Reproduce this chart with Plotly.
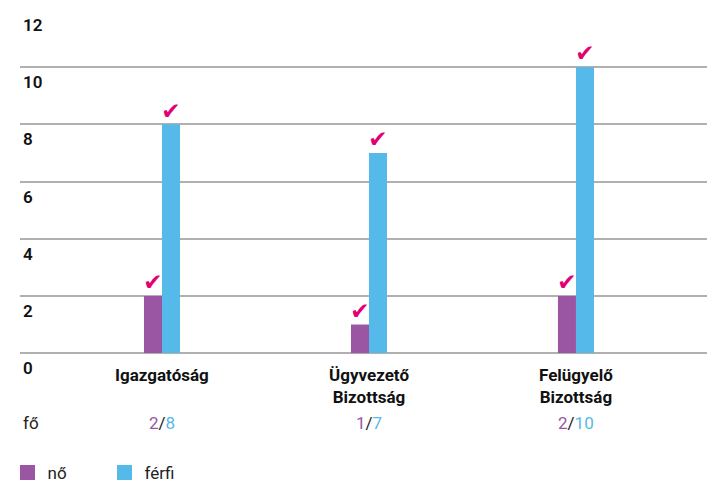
import plotly.graph_objects as go

categories = ["Igazgatóság", "Ügyvezető<br>Bizottság", "Felügyelő<br>Bizottság"]
no_values = [2, 1, 2]
ferfi_values = [8, 7, 10]
y_ticks = [0, 2, 4, 6, 8, 10, 12]

PURPLE = "#9a55a3"
BLUE = "#55b9e9"
MAGENTA = "#e20074"
FONT = "Roboto, Arial, sans-serif"

W, H = 707, 491
Y0_PX, Y12_PX = 356, 10          # pixel rows of the 0 and 12 gridlines
T, B = 9, 491                    # plot area top/bottom pixels
UNIT = (Y0_PX - Y12_PX) / 12
Y_RANGE = [-(B - Y0_PX) / UNIT, 12 + (Y12_PX - T) / UNIT]


def py(p):
    return (B - p) / (B - T)


xs = list(range(len(categories)))
bargap = 0.826
half = (1 - bargap) / 4  # centre offset of each bar inside its group

fig = go.Figure()
fig.add_trace(go.Bar(x=xs, y=no_values, name="nő", marker_color=PURPLE,
                     marker_line_width=0, offsetgroup="a", showlegend=False))
fig.add_trace(go.Bar(x=xs, y=ferfi_values, name="férfi", marker_color=BLUE,
                     marker_line_width=0, offsetgroup="b", showlegend=False))

for vals, sign in ((no_values, -1), (ferfi_values, 1)):
    fig.add_trace(go.Scatter(
        x=[x + sign * half for x in xs], y=vals, mode="text", text=["✔"] * len(vals),
        textposition="top center", textfont=dict(family="DejaVu Sans", size=23, color=MAGENTA),
        showlegend=False, hoverinfo="skip", cliponaxis=False))

for name, col in (("nő", PURPLE), ("férfi", BLUE)):
    fig.add_trace(go.Scatter(x=[None], y=[None], mode="markers", name=name,
                             marker=dict(symbol="square", size=15, color=col)))

for x, c, n, f in zip(xs, categories, no_values, ferfi_values):
    fig.add_annotation(
        x=x, xref="x", y=py(366), yref="paper", showarrow=False, yanchor="top",
        text=f"<b>{c}</b>", font=dict(family=FONT, size=17, color="#111"))
    fig.add_annotation(
        x=x, xref="x", y=py(426), yref="paper", showarrow=False, yanchor="middle",
        text=f"<span style='color:{PURPLE}'>{n}</span>/<span style='color:{BLUE}'>{f}</span>",
        font=dict(family=FONT, size=17, color="#222"))
fig.add_annotation(x=0, xref="paper", xshift=1, xanchor="left", y=py(426), yref="paper",
                   yanchor="middle", showarrow=False, text="fő",
                   font=dict(family=FONT, size=17, color="#222"))

fig.update_layout(
    width=W, height=H,
    margin=dict(l=20, r=0, t=T, b=H - B, pad=0),
    paper_bgcolor="white", plot_bgcolor="white",
    barmode="group", bargap=bargap, bargroupgap=0,
    showlegend=True,
    legend=dict(orientation="h", x=-12.5 / 687, xanchor="left", y=py(477), yanchor="middle",
                font=dict(family=FONT, size=17, color="#222"),
                entrywidth=52, entrywidthmode="pixels", itemclick=False, bgcolor="rgba(0,0,0,0)"),
    xaxis=dict(range=[-0.686, 2.633], tickvals=xs, automargin=False, showticklabels=False,
               showgrid=False, zeroline=False, showline=False, ticks=""),
    yaxis=dict(range=Y_RANGE, tickvals=y_ticks, showgrid=True, gridcolor="#b0b0b0",
               gridwidth=1.5, zeroline=False, showline=False, ticks="", automargin=False,
               ticklabelposition="inside", ticklabelshift=15,
               tickfont=dict(family=FONT, size=17, color="#111", weight=600)),
)

fig.write_html("out.html", config={"displayModeBar": False},
               post_script="document.body.style.margin='0';document.body.style.overflow='hidden';")
